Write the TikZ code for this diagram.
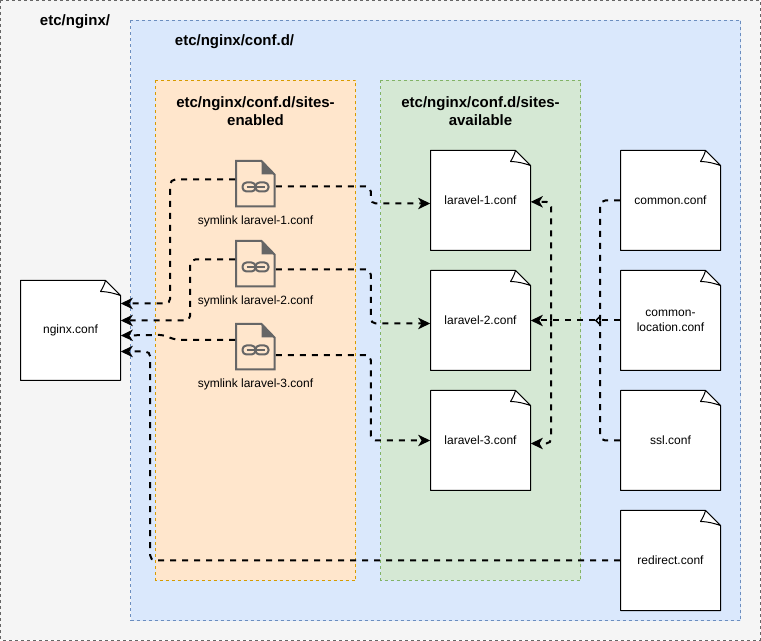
\documentclass[tikz,border=0pt]{standalone}
\usepackage{fontspec}
\setmainfont{Liberation Sans}
\usetikzlibrary{arrows.meta}
\definecolor{linkgray}{HTML}{666666}
\tikzset{
  container/.style={line width=0.75pt,dash pattern=on 2.25pt off 2.25pt},
  titlelabel/.style={font=\bfseries\fontsize{11.25}{13.5}\selectfont,align=center,text=black,inner sep=0pt},
  smalllabel/.style={font=\fontsize{9}{11.25}\selectfont,align=center,text=black,inner sep=0pt},
  filebox/.style={minimum width=75pt,minimum height=75pt,inner sep=0pt,text width=60pt,align=center,font=\fontsize{9}{11.25}\selectfont},
  symbox/.style={minimum width=30pt,minimum height=34.5pt,inner sep=0pt},
  conn/.style={line width=1.5pt,black,dash pattern=on 4.5pt off 4.5pt,rounded corners=3.75pt,-{Stealth[length=9pt,width=8.5pt,inset=2.5pt]}},
  connplain/.style={line width=1.5pt,black,dash pattern=on 4.5pt off 4.5pt,rounded corners=3.75pt},
}
% #1 name, #2 left x, #3 top y, #4 text
\newcommand{\filedoc}[4]{%
  \begin{scope}[shift={(#2,#3)}]
    \draw[line width=0.75pt,fill=white,line join=round] (0,0) -- (85,0) -- (100,15) -- (100,100) -- (0,100) -- cycle;
    \draw[line width=0.75pt,fill=white,line join=round] (85,0) .. controls (84,4) and (82,8) .. (80,11) .. controls (87,11) and (94,13) .. (100,15) -- cycle;
  \end{scope}
  \node[filebox] (#1) at (#2+50,#3+50) {#4};
}
% #1 name, #2 left x, #3 top y, #4 label
\newcommand{\symdoc}[4]{%
  \begin{scope}[shift={(#2,#3)}]
    \draw[line width=1.5pt,linkgray,fill=none,line join=miter] (0.5,0.5) -- (26,0.5) -- (39,14) -- (39,46) -- (0.5,46) -- cycle;
    \fill[linkgray] (26,0) -- (39.5,14) -- (26,14) -- cycle;
    \draw[line width=1.5pt,linkgray,rounded corners=3pt] (7,22) rectangle (20,31);
    \draw[line width=1.5pt,linkgray,rounded corners=3pt] (20,22) rectangle (33,31);
    \draw[line width=1.5pt,linkgray] (11,26.5) -- (29,26.5);
  \end{scope}
  \node[symbox] (#1) at (#2+20,#3+23) {};
  \node[smalllabel] (#1label) at (#2+20,#3+61) {#4};
}
\begin{document}
\begin{tikzpicture}[x=0.75pt,y=-0.75pt]
\useasboundingbox (0,0) rectangle (761,641);
% containers
\draw[container,draw=linkgray,fill=white!96!black] (0.5,0.5) rectangle (760,640);
\draw[container,fill={rgb,255:red,218;green,232;blue,252},draw={rgb,255:red,108;green,142;blue,191}] (130.5,20.5) rectangle (740.5,620.5);
\draw[container,fill={rgb,255:red,255;green,230;blue,204},draw={rgb,255:red,215;green,155;blue,0}] (155.5,80.5) rectangle (355.5,580.5);
\draw[container,fill={rgb,255:red,213;green,232;blue,212},draw={rgb,255:red,130;green,179;blue,102}] (380.5,80.5) rectangle (580.5,580.5);
% titles
\node[titlelabel] (t1) at (75,22) {etc/nginx/};
\node[titlelabel] (t2) at (234.5,42) {etc/nginx/conf.d/};
\node[titlelabel] (t3) at (255.5,111.5) {etc/nginx/conf.d/sites-\\enabled};
\node[titlelabel] (t4) at (480.5,111.5) {etc/nginx/conf.d/sites-\\available};
% files
\filedoc{nginx}{20.5}{280.5}{nginx.conf}
\filedoc{lar1}{430.5}{150.5}{laravel-1.conf}
\filedoc{lar2}{430.5}{270.5}{laravel-2.conf}
\filedoc{lar3}{430.5}{390.5}{laravel-3.conf}
\filedoc{common}{620.5}{150.5}{common.conf}
\filedoc{location}{620.5}{270.5}{common-\\location.conf}
\filedoc{ssl}{620.5}{390.5}{ssl.conf}
\filedoc{redirect}{620.5}{510.5}{redirect.conf}
% symlinks
\symdoc{sym1}{235.5}{160.5}{symlink laravel-1.conf}
\symdoc{sym2}{235.5}{240.5}{symlink laravel-2.conf}
\symdoc{sym3}{235.5}{323.5}{symlink laravel-3.conf}
% connectors to nginx.conf
\draw[conn] ([yshift=3pt]sym1.west) -- ++(-65,0) |- ([yshift=20.25pt]nginx.east);
\draw[conn] ([yshift=3pt]sym2.west) -- ++(-45,0) |- ([yshift=7.5pt]nginx.east);
\draw[conn] ([yshift=5pt]sym3.west) -- ++(-60,0) -- ++(-12,-5) -- ([yshift=-3.75pt]nginx.east);
\draw[conn] (redirect.west) -- ++(-470,0) |- ([yshift=-15.75pt]nginx.east);
% connectors symlink to available
\draw[conn] ([yshift=-2.25pt]sym1.east) -- ++(95,0) |- ([yshift=-2.25pt]lar1.west);
\draw[conn] ([yshift=-4.5pt]sym2.east) -- ++(95,0) |- ([yshift=-2.25pt]lar2.west);
\draw[conn] ([yshift=-6.4pt]sym3.east) -- ++(95,0) |- (lar3.west);
% includes
\coordinate (hub) at ([xshift=-15pt]location.west);
\coordinate (hubtip) at ([xshift=-19pt]location.west);
\coordinate (bus) at ([xshift=-51.75pt]location.west);
\draw[connplain] (common.west) -| (hub);
\draw[connplain] (ssl.west) -| (hub);
\draw[connplain,-{Straight Barb[length=3pt,width=6pt,line width=1pt]}] (location.west) -- (hubtip);
\draw[conn] (hubtip) -- (lar2.east);
\draw[conn] (bus) |- ([yshift=-1pt]lar1.east);
\draw[conn] (bus) |- ([yshift=-2.25pt]lar3.east);
\end{tikzpicture}
\end{document}
